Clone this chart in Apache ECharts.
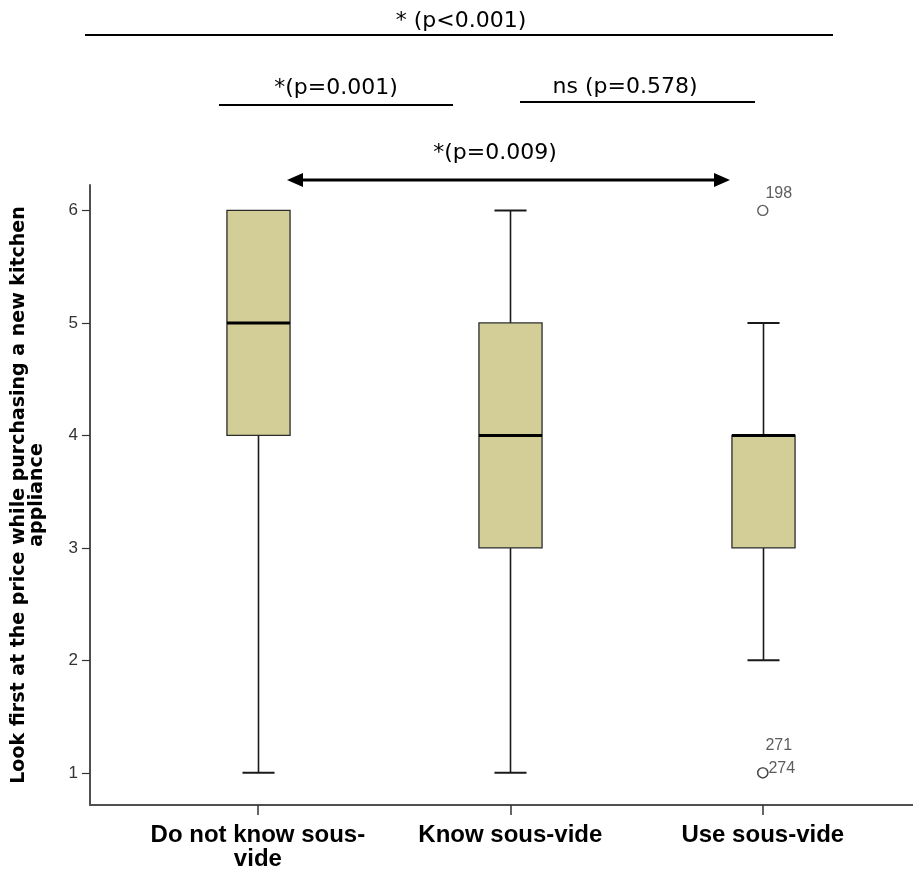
<!DOCTYPE html>
<html><head><meta charset="utf-8">
<script src="https://cdn.jsdelivr.net/npm/echarts@6/dist/echarts.min.js"></script>
<style>html,body{margin:0;padding:0;background:#fff}#c{width:913px;height:871px}</style>
</head><body><div id="c"></div>
<script>
// ---- data ----
const categories = ['Do not know sous-\nvide', 'Know sous-vide', 'Use sous-vide'];
const positions = [1, 2, 3];
const mins = [1, 1, 2];
const q1s = [4, 3, 3];
const medians = [5, 4, 4];
const q3s = [6, 5, 4];
const maxs = [6, 6, 5];
const outlierX = [3, 3, 3];
const outlierY = [6, 1, 1];
const outlierIds = ['198', '271', '274'];
const yTicks = [1, 2, 3, 4, 5, 6];
const yTitle = 'Look first at the price while purchasing a new kitchen\nappliance';
const annotationTexts = ['* (p<0.001)', '*(p=0.001)', 'ns (p=0.578)', '*(p=0.009)'];

// ---- styles ----
const outlierLabelOffsets = [[16, -17], [16, -27], [19, -4]];
const boxFill = '#d3ce98';
const edge = '#2b2b2b';
const axisColor = '#505050';

const boxData = positions.map((p, i) => [p, mins[i], q1s[i], medians[i], q3s[i], maxs[i]]);
const outlierData = outlierX.map((x, i) => ({
  value: [x, outlierY[i]],
  label: { show: true, formatter: outlierIds[i], position: 'inside', offset: outlierLabelOffsets[i] }
}));

function renderBox(params, api) {
  const x = api.value(0);
  const lo = api.coord([x, api.value(1)]);
  const q1 = api.coord([x, api.value(2)]);
  const md = api.coord([x, api.value(3)]);
  const q3 = api.coord([x, api.value(4)]);
  const hi = api.coord([x, api.value(5)]);
  const unit = api.size([1, 0])[0];
  const bw = unit * 0.25, cw = unit * 0.127;
  const cx = Math.round(lo[0]) + 0.5;
  const kids = [];
  const wStyle = { stroke: '#1a1a1a', lineWidth: 1.6 };
  const cStyle = { stroke: '#1a1a1a', lineWidth: 2 };
  if (Math.abs(lo[1] - q1[1]) > 0.5) {
    kids.push({ type: 'line', shape: { x1: cx, y1: q1[1], x2: cx, y2: lo[1] }, style: wStyle });
    kids.push({ type: 'line', shape: { x1: cx - cw / 2, y1: lo[1], x2: cx + cw / 2, y2: lo[1] }, style: cStyle });
  }
  if (Math.abs(hi[1] - q3[1]) > 0.5) {
    kids.push({ type: 'line', shape: { x1: cx, y1: q3[1], x2: cx, y2: hi[1] }, style: wStyle });
    kids.push({ type: 'line', shape: { x1: cx - cw / 2, y1: hi[1], x2: cx + cw / 2, y2: hi[1] }, style: cStyle });
  }
  kids.push({ type: 'rect', shape: { x: cx - bw / 2, y: q3[1], width: bw, height: q1[1] - q3[1] },
    style: { fill: boxFill, stroke: edge, lineWidth: 1.3 } });
  kids.push({ type: 'line', shape: { x1: cx - bw / 2, y1: md[1], x2: cx + bw / 2, y2: md[1] },
    style: { stroke: '#000', lineWidth: 3 } });
  return { type: 'group', children: kids };
}

const chart = echarts.init(document.getElementById('c'), null, { renderer: 'canvas' });
const annFont = { fontFamily: 'DejaVu Sans', fontSize: 22, fill: '#000' };
chart.setOption({
  backgroundColor: '#fff',
  animation: false,
  grid: { left: 90, right: 0, top: 185, bottom: 63 },
  xAxis: {
    type: 'value', min: 0.335, max: 3.595,
    splitLine: { show: false },
    axisLine: { show: true, onZero: false, lineStyle: { color: axisColor, width: 2 } },
    axisTick: { show: true, customValues: positions, length: 10, lineStyle: { color: '#333', width: 1.5 } },
    axisLabel: {
      customValues: positions,
      formatter: v => categories[positions.indexOf(v)],
      fontFamily: 'Liberation Sans', fontWeight: 'bold', fontSize: 24, lineHeight: 24,
      color: '#000', margin: 18
    }
  },
  yAxis: {
    type: 'value', min: 0.714, max: 6.226,
    splitLine: { show: false },
    axisLine: { show: true, onZero: false, lineStyle: { color: axisColor, width: 2 } },
    axisTick: { show: true, customValues: yTicks, length: 8, lineStyle: { color: '#333', width: 1.2 } },
    axisLabel: { customValues: yTicks, fontFamily: 'Liberation Sans', fontSize: 17, color: '#333', margin: 12 },
    name: yTitle, nameLocation: 'middle', nameGap: 44,
    nameTextStyle: { fontFamily: 'DejaVu Sans', fontWeight: 'bold', fontSize: 19, lineHeight: 18, color: '#000', align: 'center' }
  },
  series: [
    { type: 'custom', renderItem: renderBox, data: boxData, encode: { x: 0, y: [1, 2, 3, 4, 5] }, z: 2 },
    { type: 'scatter', data: outlierData, symbol: 'circle', symbolSize: 10,
      itemStyle: { color: '#fff', borderColor: '#333', borderWidth: 1.4 },
      label: { fontFamily: 'Liberation Sans', fontSize: 16, color: '#333' }, z: 3 }
  ],
  graphic: [
    { type: 'text', x: 461, y: 21, style: Object.assign({ text: annotationTexts[0], align: 'center', verticalAlign: 'middle' }, annFont) },
    { type: 'line', shape: { x1: 85, y1: 35, x2: 833, y2: 35 }, style: { stroke: '#000', lineWidth: 2 } },
    { type: 'text', x: 336, y: 88, style: Object.assign({ text: annotationTexts[1], align: 'center', verticalAlign: 'middle' }, annFont) },
    { type: 'line', shape: { x1: 219, y1: 105, x2: 453, y2: 105 }, style: { stroke: '#000', lineWidth: 2 } },
    { type: 'text', x: 625, y: 87, style: Object.assign({ text: annotationTexts[2], align: 'center', verticalAlign: 'middle' }, annFont) },
    { type: 'line', shape: { x1: 520, y1: 102, x2: 755, y2: 102 }, style: { stroke: '#000', lineWidth: 2 } },
    { type: 'text', x: 495, y: 153, style: Object.assign({ text: annotationTexts[3], align: 'center', verticalAlign: 'middle' }, annFont) },
    { type: 'line', shape: { x1: 298, y1: 180, x2: 719, y2: 180 }, style: { stroke: '#000', lineWidth: 3 } },
    { type: 'polygon', shape: { points: [[287, 180], [303, 173], [303, 187]] }, style: { fill: '#000' } },
    { type: 'polygon', shape: { points: [[730, 180], [714, 173], [714, 187]] }, style: { fill: '#000' } }
  ]
});
</script>
</body></html>
